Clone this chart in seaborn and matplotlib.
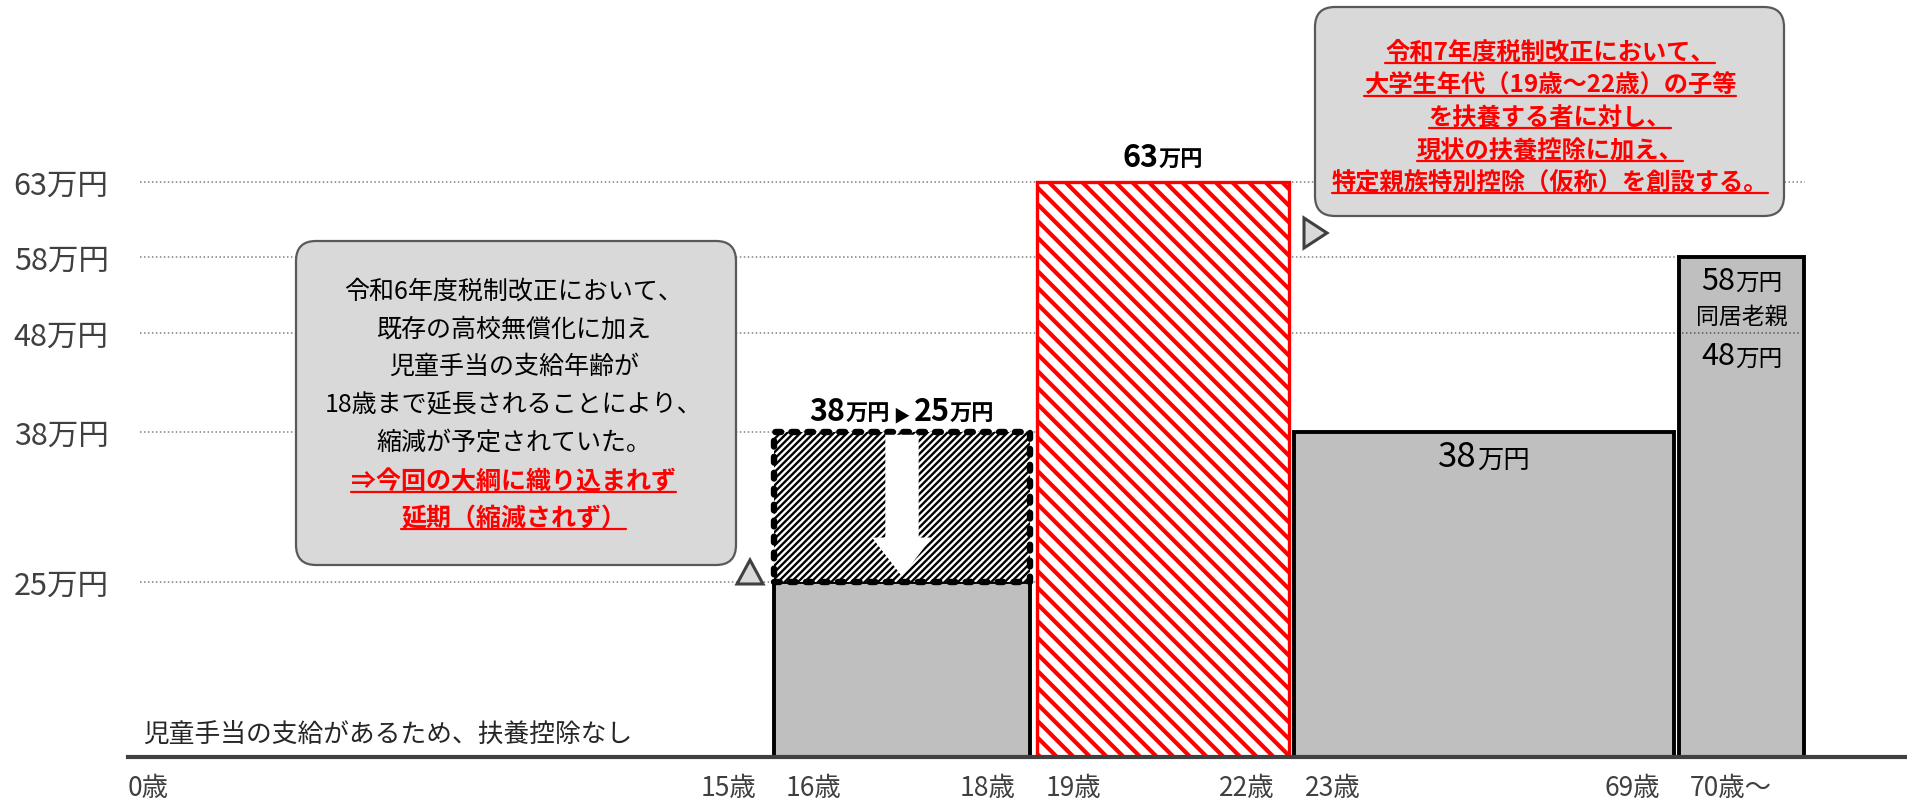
import numpy as np
import matplotlib
matplotlib.use("Agg")
import matplotlib.pyplot as plt
import seaborn as sns
import matplotlib.transforms as mtransforms
from matplotlib.patches import FancyBboxPatch, Polygon
from matplotlib.offsetbox import TextArea, HPacker, AnnotationBbox
from matplotlib.lines import Line2D

# ---------------- data ----------------
groups = ["16〜18歳", "19〜22歳", "23〜69歳", "70歳〜"]
deduction = [25, 63, 38, 48]          # 扶養控除額（万円）
planned_cut_from = 38                 # 16〜18歳：38万円 → 25万円（縮減予定）
elder_cohabit = 58                    # 70歳〜 同居老親
ref_levels = [25, 38, 48, 58, 63]
ref_labels = ["25万円", "38万円", "48万円", "58万円", "63万円"]
age_labels = ["0歳", "15歳", "16歳", "18歳", "19歳", "22歳", "23歳", "69歳", "70歳～"]
baseline_note = "児童手当の支給があるため、扶養控除なし"
callout_left = ["令和6年度税制改正において、", "既存の高校無償化に加え", "児童手当の支給年齢が",
                "18歳まで延長されることにより、", "縮減が予定されていた。"]
callout_left_red = ["⇒今回の大綱に織り込まれず", "延期（縮減されず）"]
callout_right = ["令和7年度税制改正において、", "大学生年代（19歳～22歳）の子等", "を扶養する者に対し、",
                 "現状の扶養控除に加え、", "特定親族特別控除（仮称）を創設する。"]

# ---------------- layout (pixels) ----------------
W, H = 1908, 812
AX_L, AX_B = 128, 54
seg_edges = [128, 771, 1031, 1290, 1675]
bar_left = np.array([774, 1037, 1294, 1679])
bar_right = np.array([1030, 1289, 1674, 1804])
bar_w = bar_right - bar_left
bar_c = (bar_left + bar_right) / 2
# illustrative (non-linear) vertical scale: value -> pixels above baseline
Y_V = [-10, 0, 25, 38, 48, 58, 63, 100]
Y_P = [-70, 0, 175, 325, 424, 500, 575, 1130]

GRAY = "#bfbfbf"
RED = "#ff0000"
DARK = "#404040"
FONT = ["Noto Sans CJK JP", "DejaVu Sans"]

sns.set_theme(style="white")
plt.rcParams["font.family"] = FONT
plt.rcParams["axes.unicode_minus"] = False

fig = plt.figure(figsize=(W / 100, H / 100), dpi=100)
fig.patch.set_facecolor("white")
ax = fig.add_axes([AX_L / W, AX_B / H, (W - AX_L) / W, (H - AX_B) / H])
ax.set_facecolor("white")

fwd = lambda v: np.interp(v, Y_V, Y_P)
inv = lambda p: np.interp(p, Y_P, Y_V)
ax.set_yscale("function", functions=(fwd, inv))

# reference dotted lines
ax.hlines(ref_levels, 140, 1805, colors="#808080", linestyles=(0, (1, 1.6)), lw=1.1, zorder=1)

# gray bars (16-18 current, 23-69, 70+ with cohabiting parent)
gray_idx = [0, 2, 3]
gray_vals = [deduction[0], deduction[2], elder_cohabit]
ax.bar(bar_left[gray_idx], gray_vals, width=bar_w[gray_idx], align="edge",
       color=GRAY, edgecolor="black", lw=2.8, zorder=2)

# red hatched bar (19-22)
plt.rcParams["hatch.linewidth"] = 3.0
red = ax.bar(bar_left[1], deduction[1], width=bar_w[1], align="edge",
             facecolor="white", edgecolor=RED, hatch="\\\\", lw=2.4, zorder=2)
for p in red:
    p.set_hatch_linewidth(3.0)

# planned reduction box (16-18: 38 -> 25)
plt.rcParams["hatch.linewidth"] = 1.7
cut = ax.bar(bar_left[0], planned_cut_from - deduction[0], bottom=deduction[0], width=bar_w[0],
             align="edge", facecolor="white", edgecolor="black", hatch="/////",
             linestyle=(0, (0.9, 1.6)), lw=4.6, zorder=2)
for p in cut:
    p.set_hatch_linewidth(1.7)
    p.set_capstyle("round")
    p.set_joinstyle("round")

# 48 line inside the 70+ bar
ax.hlines(deduction[3], bar_left[3] + 3, bar_right[3] - 3, colors="#595959",
          linestyles=(0, (1, 1.6)), lw=1.1, zorder=3)

# white down arrow (38 -> 25)
ax.annotate("", xy=(bar_c[0], deduction[0]), xytext=(bar_c[0], planned_cut_from),
            arrowprops=dict(arrowstyle="simple,head_length=2.8,head_width=4.3,tail_width=2.4",
                            mutation_scale=10, fc="white", ec="white", lw=0,
                            shrinkA=2, shrinkB=4), zorder=3)

# axes styling
ax.set_xlim(128, W)
ax.set_ylim(0, inv(H - AX_B))
ax.set_yticks(ref_levels, ref_labels)
ax.tick_params(axis="y", length=0, pad=14, labelsize=22, labelcolor=DARK)

lab_pos = [seg_edges[0]]
for d in seg_edges[1:]:
    lab_pos += [d - 15, d + 15]
lab_ha = ["left"] + ["right", "left"] * 4
ax.set_xticks(lab_pos, age_labels)
for t, ha in zip(ax.get_xticklabels(), lab_ha):
    t.set_ha(ha)
ax.set_xticks(seg_edges[1:], minor=True)
ax.tick_params(axis="x", which="major", length=0, pad=12, labelsize=19, labelcolor=DARK)
ax.tick_params(axis="x", which="minor", length=40, width=1.1, color="#7f7f7f", direction="out")
sns.despine(ax=ax, left=True, top=True, right=True)
ax.spines["bottom"].set_color(DARK)
ax.spines["bottom"].set_linewidth(3)
ax.grid(False)

# baseline note
ax.annotate(baseline_note, xy=(143, 0), xytext=(0, 17), textcoords="offset points",
            ha="left", va="center", fontsize=18.5, color="#262626")

# value labels
def mixed_label(parts, xy, dy):
    kids = [TextArea(s, textprops=dict(fontsize=fs, fontweight=fw, color="black"))
            for s, fs, fw in parts]
    pack = HPacker(children=kids, align="baseline", pad=0, sep=0)
    ab = AnnotationBbox(pack, xy, xybox=(0, dy), boxcoords="offset points",
                        frameon=False, box_alignment=(0.5, 0.5), pad=0, zorder=6)
    ax.add_artist(ab)

mixed_label([(f"{deduction[1]}", 22, "bold"), ("万円", 16, "bold")], (bar_c[1], deduction[1]), 18)
mixed_label([(f"{planned_cut_from}", 22, "bold"), ("万円", 16, "bold"), (" ▶ ", 12, "normal"),
             (f"{deduction[0]}", 22, "bold"), ("万円", 16, "bold")],
            (bar_c[0], planned_cut_from), 15)
mixed_label([(f"{deduction[2]}", 25, "normal"), ("万円", 19, "normal")], (bar_c[2], deduction[2]), -18)
mixed_label([(f"{elder_cohabit}", 22, "normal"), ("万円", 17, "normal")], (bar_c[3], elder_cohabit), -17)
ax.annotate("同居老親", xy=(bar_c[3], elder_cohabit), xytext=(0, -42.5), textcoords="offset points",
            ha="center", va="center", fontsize=16.5, color="black", zorder=6)
mixed_label([(f"{deduction[3]}", 22, "normal"), ("万円", 17, "normal")], (bar_c[3], deduction[3]), -16.5)

# callout boxes (figure pixel coordinates)
IDT = mtransforms.IdentityTransform()

def box(x0, y0, x1, y1):
    p = FancyBboxPatch((x0, H - y1), x1 - x0, y1 - y0, boxstyle="round,pad=0,rounding_size=20",
                       transform=IDT, fc="#d9d9d9", ec="#595959", lw=1.6, zorder=4)
    fig.add_artist(p)

def tri(pts):
    p = Polygon([(x, H - y) for x, y in pts], closed=True, transform=IDT,
                fc="#d9d9d9", ec="#404040", lw=2.2, zorder=4, joinstyle="miter")
    fig.add_artist(p)

box(296, 242, 736, 566)
box(1315, 8, 1784, 217)
tri([(737, 585), (763, 585), (750, 561)])
tri([(1304, 219), (1304, 249), (1327, 234)])

underline = []
ys_left = [292, 330, 367, 405, 443]
for s, y in zip(callout_left, ys_left):
    fig.text(514 / W, 1 - y / H, s, ha="center", va="center", fontsize=18, color="black", zorder=5)
for s, y in zip(callout_left_red, [482, 519]):
    t = fig.text(514 / W, 1 - y / H, s, ha="center", va="center", fontsize=18,
                 color=RED, fontweight="bold", zorder=5)
    underline.append(t)
for s, y in zip(callout_right, [53, 86, 118, 151, 183]):
    t = fig.text(1550 / W, 1 - y / H, s, ha="center", va="center", fontsize=17.5,
                 color=RED, fontweight="bold", zorder=5)
    underline.append(t)

fig.canvas.draw()
r = fig.canvas.get_renderer()
for t in underline:
    bb = t.get_window_extent(r)
    yy = bb.y0 + 1
    fig.add_artist(Line2D([bb.x0, bb.x1], [yy, yy], transform=IDT, color=RED, lw=1.6, zorder=5))

fig.savefig("out.png", dpi=100, facecolor="white")
